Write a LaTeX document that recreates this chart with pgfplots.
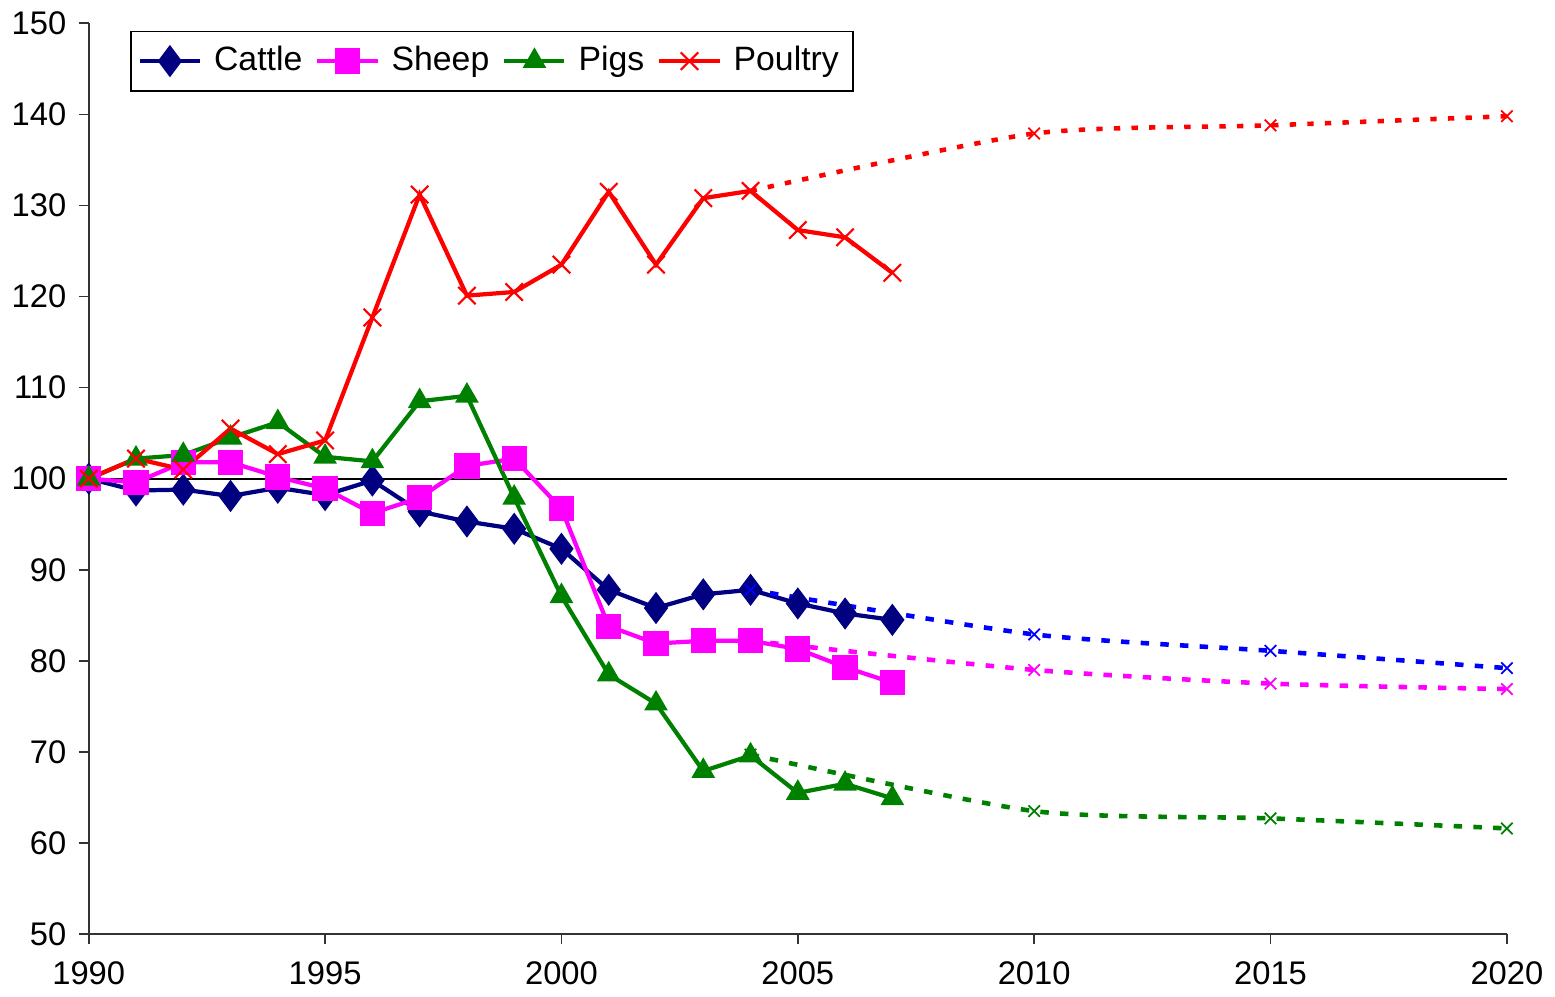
\documentclass[border=0pt]{standalone}
\usepackage{fontspec}
\setmainfont{Liberation Sans}
\usepackage{pgfplots}
\pgfplotsset{compat=1.18}
\definecolor{cattle}{RGB}{0,0,128}
\definecolor{sheep}{RGB}{255,0,255}
\definecolor{pigs}{RGB}{0,128,0}
\definecolor{poultry}{RGB}{255,0,0}
\definecolor{projblue}{RGB}{0,0,255}
\begin{document}
\begin{tikzpicture}
\begin{axis}[
  scale only axis,
  width=14.17cm, height=9.10cm,
  xmin=1990, xmax=2020, ymin=50, ymax=150,
  xtick={1990,1995,...,2020},
  ytick={50,60,...,150},
  axis lines*=left,
  axis line style={line width=0.5pt, black!80},
  tick align=outside,
  major tick length=0.1cm,
  tick style={black!80, line width=0.5pt},
  xticklabel style={yshift=-0.05cm},
  /pgf/number format/1000 sep={},
  /pgf/number format/assume math mode=true,
  ticklabel style={font=\fontsize{9.3}{11}\selectfont},
  legend style={at={(0.029,0.992)}, anchor=north west, draw=black, line width=0.5pt,
    legend columns=4, font=\fontsize{9.6}{11}\selectfont,
    /tikz/every odd column/.append style={column sep=0.05cm},
    /tikz/every even column/.append style={column sep=0.06cm},
    inner xsep=2pt, inner ysep=2.2pt},
  legend cell align=left,
  clip=false,
]
\addplot[black, line width=0.6pt, forget plot] coordinates {(1990,100) (2020,100)};

\addplot[cattle, line width=1.2pt, mark=diamond*, mark size=3.6pt, mark options={solid, fill=cattle, scale=1}] coordinates {
(1990,100) (1991,98.7) (1992,98.8) (1993,98.1) (1994,99.0) (1995,98.2) (1996,99.8)
(1997,96.4) (1998,95.3) (1999,94.5) (2000,92.3) (2001,87.8) (2002,85.8) (2003,87.3)
(2004,87.8) (2005,86.3) (2006,85.2) (2007,84.5)};
\addlegendentry{Cattle}

\addplot[sheep, line width=1.2pt, mark=square*, mark size=3.0pt, mark options={solid, fill=sheep}] coordinates {
(1990,100) (1991,99.6) (1992,101.8) (1993,101.8) (1994,100.2) (1995,98.9) (1996,96.2)
(1997,97.9) (1998,101.4) (1999,102.2) (2000,96.7) (2001,83.8) (2002,81.9) (2003,82.2)
(2004,82.2) (2005,81.3) (2006,79.3) (2007,77.6)};
\addlegendentry{Sheep}

\addplot[pigs, line width=1.2pt, mark=triangle*, mark size=2.7pt, mark options={solid, fill=pigs}] coordinates {
(1990,100) (1991,102.2) (1992,102.6) (1993,104.5) (1994,106.2) (1995,102.4) (1996,101.9)
(1997,108.5) (1998,109.1) (1999,97.9) (2000,87.1) (2001,78.5) (2002,75.3) (2003,67.9)
(2004,69.6) (2005,65.5) (2006,66.5) (2007,64.9)};
\addlegendentry{Pigs}

\addplot[poultry, line width=1.2pt, mark=x, mark size=3.5pt, mark options={solid, line width=0.6pt}] coordinates {
(1990,100) (1991,102.2) (1992,101.0) (1993,105.5) (1994,102.7) (1995,104.2) (1996,117.7)
(1997,131.2) (1998,120.1) (1999,120.5) (2000,123.5) (2001,131.5) (2002,123.5) (2003,130.8)
(2004,131.6) (2005,127.3) (2006,126.5) (2007,122.6)};
\addlegendentry{Poultry}

% projections
\addplot[projblue, line width=1.3pt, dash pattern=on 2.4pt off 3.2pt, smooth, tension=0.4, mark=x, mark size=2.3pt, mark options={solid, line width=0.5pt}, forget plot] coordinates {
(2004,87.8) (2010,82.9) (2015,81.1) (2020,79.2)};
\addplot[sheep, line width=1.3pt, dash pattern=on 2.4pt off 3.2pt, smooth, tension=0.4, mark=x, mark size=2.3pt, mark options={solid, line width=0.5pt}, forget plot] coordinates {
(2004,82.2) (2010,79.0) (2015,77.5) (2020,76.9)};
\addplot[pigs, line width=1.3pt, dash pattern=on 2.4pt off 3.2pt, smooth, tension=0.4, mark=x, mark size=2.3pt, mark options={solid, line width=0.5pt}, forget plot] coordinates {
(2004,69.7) (2010,63.5) (2015,62.7) (2020,61.6)};
\addplot[poultry, line width=1.3pt, dash pattern=on 1.8pt off 3.2pt, smooth, tension=0.4, mark=x, mark size=2.3pt, mark options={solid, line width=0.5pt}, forget plot] coordinates {
(2004,131.6) (2010,137.9) (2015,138.8) (2020,139.8)};
\end{axis}
\end{tikzpicture}
\end{document}
